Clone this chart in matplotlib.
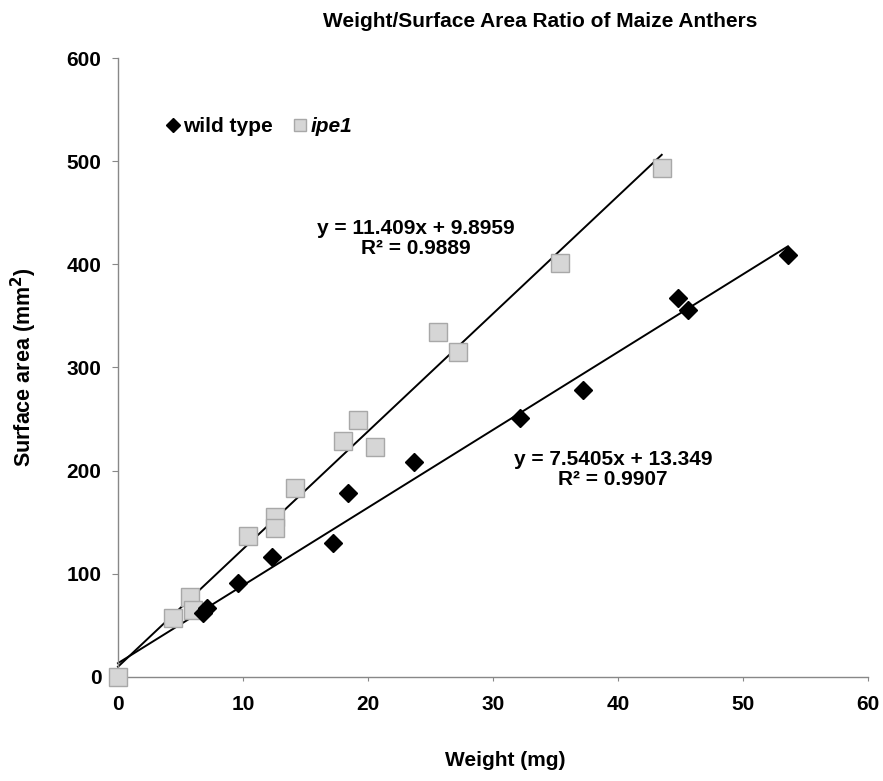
import numpy as np
from matplotlib import pyplot as plt
from matplotlib import font_manager as fm

# data
wt_x = [6.8, 7.1, 9.6, 12.3, 17.2, 18.4, 23.7, 32.2, 37.2, 44.8, 45.6, 53.6]
wt_y = [62, 67, 91, 116, 130, 178, 208, 251, 278, 367, 356, 409]
ipe_x = [0, 4.4, 5.8, 6.0, 10.4, 12.6, 12.6, 14.2, 18.0, 19.2, 20.6, 25.6, 27.2, 35.4, 43.5]
ipe_y = [0, 57, 78, 65, 137, 155, 144, 183, 229, 249, 223, 334, 315, 401, 493]

# trend lines as printed on the chart
wt_fit = (7.5405, 13.349, 0.9907)
ipe_fit = (11.409, 9.8959, 0.9889)

xticks = [0, 10, 20, 30, 40, 50, 60]
yticks = [0, 100, 200, 300, 400, 500, 600]

names = {f.name for f in fm.fontManager.ttflist}
narrow = 'Liberation Sans Narrow' if 'Liberation Sans Narrow' in names else 'Liberation Sans'
plt.rcParams['font.family'] = ['Liberation Sans', 'DejaVu Sans']

fig = plt.figure(figsize=(8.83, 7.81), dpi=100)
ax = fig.add_axes([0.1336, 0.1332, 0.8494, 0.7925])

# trend lines behind the markers
xs = np.array([0, max(ipe_x)])
ax.plot(xs, ipe_fit[0]*xs + ipe_fit[1], color='black', lw=1.4, zorder=2)
xs = np.array([0, max(wt_x)])
ax.plot(xs, wt_fit[0]*xs + wt_fit[1], color='black', lw=1.4, zorder=2)

ax.plot(ipe_x, ipe_y, 's', ms=13, mfc='#d6d6d6', mec='#a8a8a8', mew=1.0,
        ls='none', label='ipe1', zorder=3)
ax.plot(wt_x, wt_y, 'D', ms=9.5, mfc='black', mec='black', ls='none',
        label='wild type', zorder=4)

ax.text(23.8, 425, 'y = %.3fx + %.4f\nR² = %.4f' % ipe_fit, ha='center', va='center',
        fontsize=15, fontweight='bold', linespacing=1.1)
ax.text(39.6, 201, 'y = %.4fx + %.3f\nR² = %.4f' % wt_fit, ha='center', va='center',
        fontsize=15, fontweight='bold', linespacing=1.1)

h, l = ax.get_legend_handles_labels()
leg = ax.legend(h[::-1], l[::-1], loc='center left', bbox_to_anchor=(0.04, 0.889),
                ncol=2, frameon=False, fontsize=15, handlelength=0.6,
                handletextpad=0.2, columnspacing=1.0, markerscale=0.7)
for t in leg.get_texts():
    t.set_fontweight('bold')
leg.get_texts()[1].set_fontstyle('italic')

ax.set_xlim(0, 60)
ax.set_ylim(0, 600)
ax.set_xticks(xticks)
ax.set_yticks(yticks)
for s in ['top', 'right']:
    ax.spines[s].set_visible(False)
for s in ['left', 'bottom']:
    ax.spines[s].set_color('#888888')
    ax.spines[s].set_linewidth(1.0)
ax.tick_params(axis='x', direction='out', length=3, color='#888888', pad=10)
ax.tick_params(axis='y', direction='out', length=4, color='#888888', pad=8)
for t in ax.get_xticklabels():
    t.set_family(narrow)
    t.set_fontsize(15)
    t.set_fontweight('bold')
for t in ax.get_yticklabels():
    t.set_fontsize(15)
    t.set_fontweight('bold')
for ln in ax.lines:
    ln.set_clip_on(False)

ax.set_ylabel('Surface area (mm$^\\mathbf{2}$)', fontsize=15.5, fontweight='bold', labelpad=20)
fig.text(0.572, 0.026, 'Weight (mg)', ha='center', va='center', fontsize=15,
         fontweight='bold', family=narrow)
fig.text(0.612, 0.972, 'Weight/Surface Area Ratio of Maize Anthers', ha='center',
         va='center', fontsize=15, fontweight='bold', family=narrow)

fig.savefig('out.png', dpi=100)
